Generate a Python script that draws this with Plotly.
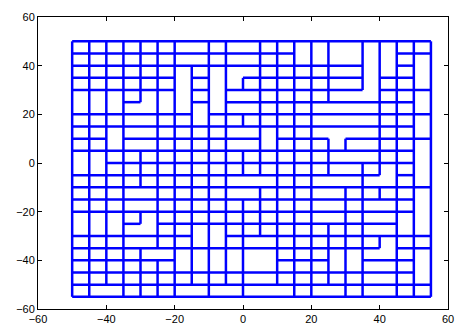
import plotly.graph_objects as go

# grid lines of the mesh (x left->right, y top->bottom)
x_edges = [-50, -45, -40, -35, -30, -25, -20, -15, -10, -5, 0, 5, 10, 15, 20, 25, 30, 35, 40, 45, 50, 55]
y_edges = [50, 45, 40, 35, 30, 25, 20, 15, 10, 5, 0, -5, -10, -15, -20, -25, -30, -35, -40, -45, -50, -55]

# merged cells: (column index, row index from top)
merged_cells = [
    [(6, 0), (7, 0)], [(6, 1), (7, 1)],
    [(9, 0), (10, 0)], [(9, 1), (10, 1)],
    [(13, 0), (13, 1)], [(14, 0), (14, 1)],
    [(15, 0), (16, 0), (15, 1), (16, 1)],
    [(17, 0), (17, 1), (17, 2), (17, 3), (17, 4), (15, 4), (16, 4)],
    [(18, 0), (18, 1), (18, 2)],
    [(20, 1), (20, 2), (20, 3)],
    [(9, 2), (10, 2), (9, 3)],
    [(15, 2), (16, 2)], [(15, 3), (16, 3)],
    [(6, 2), (6, 3), (6, 4), (6, 5)],
    [(8, 2), (8, 3), (8, 4), (8, 5)],
    [(0, 4), (0, 5)], [(1, 4), (1, 5)], [(2, 4), (2, 5)],
    [(4, 4), (3, 5), (4, 5)],
    [(5, 4), (5, 5)],
    [(7, 5), (7, 6)],
    [(9, 4), (10, 4)], [(9, 5), (10, 5)],
    [(20, 4), (20, 5)],
    [(14, 5), (15, 5), (16, 5), (17, 5)],
    [(14, 6), (15, 6), (16, 6), (17, 6)],
    [(20, 6), (20, 7)],
    [(3, 6), (4, 6)], [(3, 7), (4, 7)], [(3, 8), (4, 8)],
    [(2, 7), (2, 8)],
    [(9, 7), (10, 7)], [(9, 8), (10, 8)],
    [(11, 7), (11, 8)],
    [(14, 7), (15, 7), (16, 7), (17, 7), (15, 8)],
    [(16, 8), (17, 8)],
    [(20, 8), (20, 9), (20, 10), (20, 11)],
    [(0, 9), (0, 10)], [(1, 9), (1, 10)],
    [(15, 9), (16, 9), (17, 9)],
    [(15, 10), (16, 10)],
    [(18, 10), (17, 11), (18, 11)],
    [(14, 11), (15, 11), (16, 11)],
    [(9, 11), (10, 11), (11, 11)],
    [(9, 12), (10, 12)],
    [(3, 12), (4, 12)], [(3, 13), (4, 13)],
    [(14, 12), (15, 12)], [(14, 13), (15, 13)], [(14, 14), (15, 14)],
    [(17, 13), (18, 13)], [(17, 14), (18, 14)], [(17, 15), (18, 15)],
    [(20, 12), (20, 13), (20, 14), (20, 15)],
    [(0, 14), (0, 15)], [(1, 14), (1, 15)], [(2, 14), (2, 15)],
    [(4, 14), (3, 15), (4, 15)],
    [(19, 14), (19, 15)],
    [(3, 16), (4, 16)],
    [(4, 17), (5, 17)],
    [(7, 15), (7, 16)], [(8, 15), (8, 16)],
    [(6, 17), (6, 18)], [(7, 17), (7, 18)], [(8, 17), (8, 18)], [(9, 17), (9, 18)],
    [(10, 16), (11, 16)],
    [(10, 17), (11, 17), (10, 18), (11, 18)],
    [(10, 19), (11, 19)],
    [(18, 16), (17, 17), (18, 17)],
    [(15, 17), (15, 18)], [(16, 17), (16, 18)],
    [(17, 18), (18, 18)], [(17, 19), (18, 19)],
    [(20, 17), (20, 18), (20, 19)],
    [(1, 20), (2, 20)], [(6, 20), (7, 20)], [(8, 20), (9, 20)],
    [(10, 20), (11, 20), (12, 20)], [(14, 20), (15, 20)], [(17, 20), (18, 20)],
]

tick_vals = [-60, -40, -20, 0, 20, 40, 60]
tick_text = ["\u221260", "\u221240", "\u221220", "0", "20", "40", "60"]

ncol = len(x_edges) - 1
nrow = len(y_edges) - 1
region = {}
for i, cells in enumerate(merged_cells):
    for c in cells:
        region[c] = i


def same(a, b):
    return a in region and b in region and region[a] == region[b]


xs, ys = [], []
# vertical edges
for k in range(ncol + 1):
    run = None
    for r in range(nrow + 1):
        present = False
        if r < nrow:
            present = k == 0 or k == ncol or not same((k - 1, r), (k, r))
        if present and run is None:
            run = r
        if not present and run is not None:
            xs += [x_edges[k], x_edges[k], None]
            ys += [y_edges[run], y_edges[r], None]
            run = None
# horizontal edges
for m in range(nrow + 1):
    run = None
    for c in range(ncol + 1):
        present = False
        if c < ncol:
            present = m == 0 or m == nrow or not same((c, m - 1), (c, m))
        if present and run is None:
            run = c
        if not present and run is not None:
            xs += [x_edges[run], x_edges[c], None]
            ys += [y_edges[m], y_edges[m], None]
            run = None

fig = go.Figure(go.Scatter(x=xs, y=ys, mode="lines",
                           line=dict(color="#0000ff", width=2.5),
                           hoverinfo="skip", showlegend=False))

axis_common = dict(range=[-60, 60], tickvals=tick_vals, ticktext=tick_text,
                   ticks="inside", ticklen=4, tickcolor="black",
                   showline=True, linecolor="black", linewidth=1,
                   mirror="ticks", showgrid=False, zeroline=False,
                   automargin=False,
                   tickfont=dict(family="Liberation Sans, Arial", size=11, color="black"))
fig.update_layout(
    width=458, height=325,
    margin=dict(l=38, r=10, t=17, b=16, autoexpand=False),
    paper_bgcolor="white", plot_bgcolor="white",
    xaxis=axis_common, yaxis=axis_common,
)
fig.write_html("out.html")
